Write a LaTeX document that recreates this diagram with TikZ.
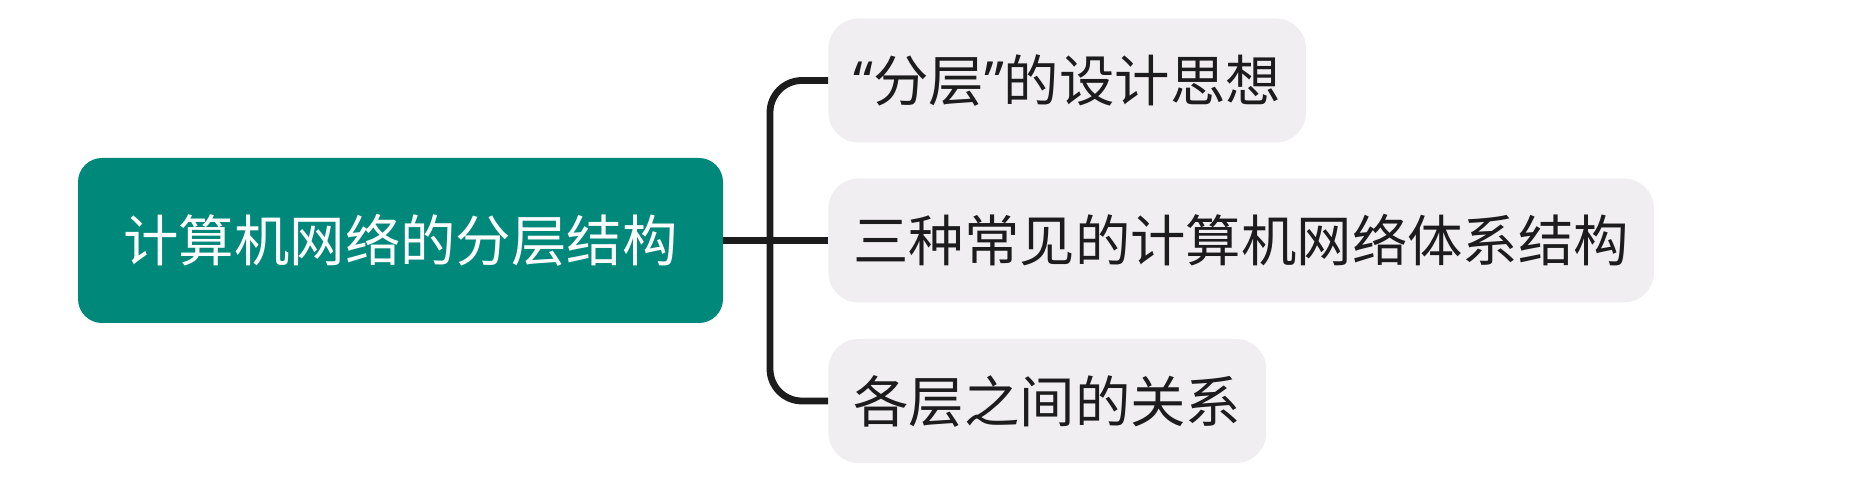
\documentclass[tikz,border=0pt]{standalone}
\usepackage{fontspec}
\setmainfont{Noto Sans CJK SC}
\newfontfamily\latinq{Noto Sans}
\definecolor{rootfill}{RGB}{0,137,122}
\definecolor{childfill}{RGB}{240,238,241}
\definecolor{ink}{RGB}{28,28,28}
\begin{document}
\begin{tikzpicture}[x=0.5pt,y=-0.5pt,
  rootbox/.style={rounded corners=12pt, fill=rootfill, text=white, minimum width=322.5pt, minimum height=82.5pt, inner sep=0pt, font=\fontsize{27.7pt}{30pt}\selectfont},
  childbox/.style={rounded corners=15pt, fill=childfill, text=ink, anchor=west, minimum height=62pt, inner xsep=12.5pt, inner ysep=0pt, font=\fontsize{27.7pt}{30pt}\selectfont},
  conn/.style={draw=ink, line width=3.4pt}]
\useasboundingbox (0,0) rectangle (1873,501);
\node[rootbox] (root) at (400.5,240.5) {计算机网络的分层结构};
\node[childbox] (c1) at (828,80.5) {{\latinq “}分层{\latinq ”}的设计思想};
\node[childbox] (c2) at (828,240.5) {三种常见的计算机网络体系结构};
\node[childbox] (c3) at (828,401) {各层之间的关系};
\coordinate (j) at (770,240.5);
\draw[conn, rounded corners=16pt] (c1.west) -| (j) |- (c3.west);
\draw[conn] (root.east) -- (c2.west);
\end{tikzpicture}
\end{document}
